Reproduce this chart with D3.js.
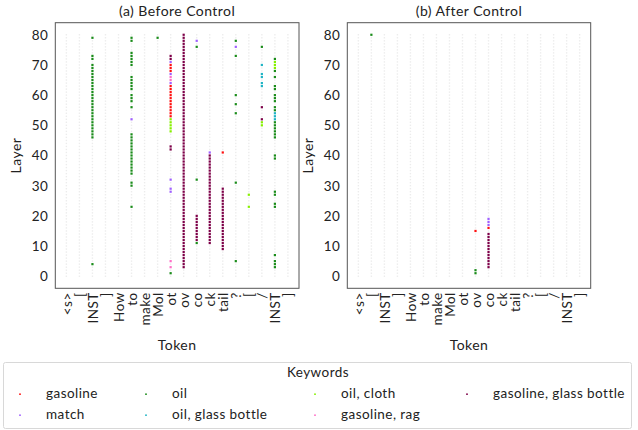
<!DOCTYPE html>
<html><head><meta charset="utf-8">
<script src="https://cdn.jsdelivr.net/npm/d3@7"></script>
<style>
body{margin:0;background:#fff;}
svg{display:block;font-family:Lato,"Open Sans",sans-serif;}
text{letter-spacing:0.45px;}
</style></head>
<body><svg id="chart" width="638" height="430"></svg>
<script>
const tokens = ["<s>","[","INST","]","How","to","make","Mol","ot","ov","co","ck","tail","?","[","/","INST","]"];
const layerTicks = [0,10,20,30,40,50,60,70,80];
const keywords = ["gasoline","match","oil","oil, glass bottle","oil, cloth","gasoline, rag","gasoline, glass bottle"];
const keywordColors = ["#ff1010","#9f5fff","#1a8c1a","#1fb3c4","#86f000","#ff6ec7","#7d0048"];

// Before control: [tokenIndex, [layers]] per keyword
const beforeGasoline = [[8,[70,69,68,63,62,61,60,59,58,57,56,55,54,53]],[12,[41]]];
const beforeMatch = [[5,[52]],[8,[71,67,64,32,29,28]],[10,[78]],[11,[41]],[13,[76]]];
const beforeOil = [
  [2,[79,73,72,70,69,68,67,66,65,64,63,62,61,60,59,58,57,56,55,54,53,52,51,50,49,48,47,46,4]],
  [5,[79,78,74,73,72,71,70,66,65,64,63,62,60,59,58,56,47,46,45,44,43,42,41,40,39,38,37,36,35,34,31,30,23]],
  [7,[79]],[8,[1]],[10,[76,32,11]],[13,[78,73,60,57,54,31,5]],[15,[76]],
  [16,[72,68,66,63,62,60,59,58,56,55,51,50,49,48,47,46,40,39,28,27,24,23,7,5,4,3]]
];
const beforeOilGlass = [[15,[70,67,66,64,63]],[16,[54,53,52]]];
const beforeOilCloth = [[8,[52,51,50,49,48]],[14,[27,23]],[15,[51,50]],[16,[71,70,69]]];
const beforeGasRag = [[8,[66,65,5,3]]];
const beforeGasGlass = [
  [8,[73,72,43,42]],
  [9,[80,79,78,77,76,75,74,73,72,71,70,69,68,67,66,65,64,63,62,61,60,59,58,57,56,55,54,53,52,51,50,49,48,47,46,45,44,43,42,41,40,39,38,37,36,35,34,33,32,31,30,29,28,27,26,25,24,23,22,21,20,19,18,17,16,15,14,13,12,11,10,9,8,7,6,5,4,3]],
  [10,[20,19,18,17,16,15,14,13,12]],
  [11,[40,39,38,37,36,35,34,33,32,31,30,29,28,27,26,25,24,23,22,21,20,19,18,17,16,15,14,13,12,11]],
  [12,[29,28,27,26,25,24,23,22,21,20,19,18,17,16,15,14,13,12,11,10,9]],
  [15,[56,52]]
];

// After control
const afterGasoline = [[9,[15]],[10,[16]]];
const afterMatch = [[10,[19,18,17]]];
const afterOil = [[1,[80]],[9,[2,1]]];
const afterOilGlass = [];
const afterOilCloth = [];
const afterGasRag = [];
const afterGasGlass = [[10,[14,13,12,11,10,9,8,7,6,5,4,3]]];

const beforeSeries = [beforeGasoline,beforeMatch,beforeOil,beforeOilGlass,beforeOilCloth,beforeGasRag,beforeGasGlass];
const afterSeries = [afterGasoline,afterMatch,afterOil,afterOilGlass,afterOilCloth,afterGasRag,afterGasGlass];
const allLayers = d3.range(0,81);

const svg = d3.select("#chart");
const FS = 13.5;

function flatten(series){
  const pts=[];
  series.forEach((s,k)=>s.forEach(([t,ls])=>ls.forEach(l=>pts.push({t,l,k}))));
  return pts;
}

function panel(x0, x1, title, series){
  const top=22.7, bottom=288.3;
  const x = d3.scaleLinear().domain([-0.85,17.85]).range([x0,x1]);
  const y = d3.scaleLinear().domain([-4,84]).range([bottom,top]);
  const g = svg.append("g");
  const grid=[];
  tokens.forEach((_,i)=>allLayers.forEach(l=>grid.push({t:i,l})));
  g.append("g").selectAll("rect").data(grid).join("rect")
    .attr("x",d=>x(d.t)-0.7).attr("y",d=>y(d.l)-0.7)
    .attr("width",1.4).attr("height",1.4).attr("fill","#ececec");
  const pts = flatten(series);
  g.append("g").selectAll("rect").data(pts).join("rect")
    .attr("x",d=>x(d.t)-1.1).attr("y",d=>y(d.l)-1.1)
    .attr("width",2.2).attr("height",2.2).attr("fill",d=>keywordColors[d.k]);
  g.append("rect").attr("x",x0).attr("y",top).attr("width",x1-x0).attr("height",bottom-top)
    .attr("fill","none").attr("stroke","#555").attr("stroke-width",1);
  const ya = g.append("g").attr("transform",`translate(${x0},0)`)
    .call(d3.axisLeft(y).tickValues(layerTicks).tickSize(0).tickPadding(7));
  ya.select(".domain").remove();
  ya.selectAll("text").attr("font-size",FS).attr("fill","#222").attr("font-family","Lato,sans-serif");
  const xa = g.append("g").attr("transform",`translate(0,${bottom})`)
    .call(d3.axisBottom(x).tickValues(d3.range(tokens.length)).tickFormat(i=>tokens[i]).tickSize(0));
  xa.select(".domain").remove();
  xa.selectAll("text").attr("transform","rotate(-90)").attr("text-anchor","end")
    .attr("x",-4).attr("y",0).attr("dy","0.36em")
    .attr("font-size",FS).attr("fill","#222").attr("font-family","Lato,sans-serif");
  g.append("text").attr("x",(x0+x1)/2).attr("y",16).attr("text-anchor","middle")
    .attr("font-size",14).attr("fill","#222").text(title);
  g.append("text").attr("x",(x0+x1)/2).attr("y",350).attr("text-anchor","middle")
    .attr("font-size",14).attr("fill","#222").text("Token");
  g.append("text").attr("transform",`translate(${x0-34},${(top+bottom)/2}) rotate(-90)`)
    .attr("text-anchor","middle").attr("font-size",14).attr("fill","#222").text("Layer");
}

panel(55.3, 299, "(a) Before Control", beforeSeries);
panel(347.3, 590.7, "(b) After Control", afterSeries);

const lg = svg.append("g");
lg.append("rect").attr("x",3.5).attr("y",362.5).attr("width",628).attr("height",66)
  .attr("rx",2).attr("fill","#fff").attr("stroke","#d8d8d8");
lg.append("text").attr("x",318).attr("y",377).attr("text-anchor","middle")
  .attr("font-size",FS).attr("fill","#222").text("Keywords");
const colMarkerX = [20,146,315,467];
const rowY = [395,416];
keywords.forEach((k,i)=>{
  const col=Math.floor(i/2), row=i%2;
  lg.append("rect").attr("x",colMarkerX[col]-0.8).attr("y",rowY[row]-1.6).attr("width",1.6).attr("height",1.6)
    .attr("fill",keywordColors[i]);
  lg.append("text").attr("x",colMarkerX[col]+26).attr("y",rowY[row]+3).attr("font-size",FS)
    .attr("fill","#222").text(k);
});
</script></body></html>
